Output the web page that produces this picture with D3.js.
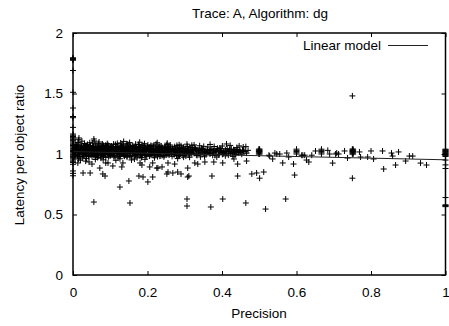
<!DOCTYPE html>
<html>
<head>
<meta charset="utf-8">
<script src="https://cdn.jsdelivr.net/npm/d3@7"></script>
<style>
  body { margin: 0; background: #fff; }
  svg text { font-family: "Liberation Sans", Arial, sans-serif; font-size: 13.5px; fill: #000; }
</style>
</head>
<body>
<div id="chart"></div>
<script>
const xTicks = [0, 0.2, 0.4, 0.6, 0.8, 1];
const yTicks = [0, 0.5, 1, 1.5, 2];

// linear model end points
const modelX = [0, 1];
const modelY = [1.02, 0.952];

// points stacked on precision = 0
const edgeLeftY = [1.775, 1.78, 1.785, 1.79, 1.795, 1.69, 1.51, 1.38, 1.31, 1.30, 1.22, 1.165, 1.155, 1.145,
  1.135, 1.125, 1.118, 1.11, 1.10, 1.09, 1.08, 1.07, 1.06, 1.05, 1.04, 1.03, 1.02, 1.01, 1.0, 0.99, 0.98,
  0.97, 0.96, 0.95, 0.94, 0.93, 0.915, 0.86, 0.84, 0.82];

// points stacked on precision = 1
const edgeRightY = [1.04, 1.035, 1.03, 1.025, 1.02, 1.015, 1.01, 1.005, 1.0, 0.995, 0.99, 0.985, 0.98,
  0.95, 0.91, 0.88, 0.64, 0.58, 0.575, 0.57, 0.565];

// dense cloud, precision 0 - 0.1
const cloudA = [[0.003,1.021],[0.007,1.054],[0.011,0.987],[0.014,1.072],[0.018,1.012],[0.021,1.043],[0.025,0.968],
  [0.028,1.031],[0.031,1.087],[0.034,1.004],[0.037,1.058],[0.041,0.992],[0.044,1.026],[0.047,1.068],[0.051,0.978],
  [0.054,1.037],[0.057,1.015],[0.061,1.081],[0.064,0.996],[0.067,1.049],[0.071,1.022],[0.074,0.983],[0.077,1.064],
  [0.081,1.009],[0.084,1.041],[0.088,0.972],[0.091,1.029],[0.094,1.076],[0.098,1.002],
  [0.002,1.046],[0.005,0.975],[0.009,1.033],[0.013,1.095],[0.016,0.998],[0.019,1.061],[0.023,1.018],[0.027,0.981],
  [0.030,1.047],[0.033,1.023],[0.036,0.962],[0.039,1.079],[0.043,1.041],[0.046,1.003],[0.049,1.029],[0.052,1.091],
  [0.056,0.989],[0.059,1.053],[0.063,1.027],[0.066,0.971],[0.069,1.066],[0.073,1.036],[0.076,1.001],[0.079,1.083],
  [0.083,1.019],[0.086,0.993],[0.089,1.057],[0.093,1.011],[0.096,1.044],[0.099,0.985],
  [0.004,1.008],[0.008,1.069],[0.012,1.039],[0.015,0.959],[0.017,1.028],[0.022,1.083],[0.026,1.051],[0.029,0.995],
  [0.032,1.014],[0.035,1.071],[0.038,1.036],[0.042,0.979],[0.045,1.093],[0.048,1.048],[0.053,1.006],[0.055,1.062],
  [0.058,1.032],[0.062,0.984],[0.065,1.017],[0.068,1.088],[0.072,1.052],[0.075,0.966],[0.078,1.025],[0.082,1.071],
  [0.085,1.046],[0.087,1.013],[0.092,1.086],[0.095,0.977],[0.097,1.034],
  [0.001,0.994],[0.006,1.031],[0.010,1.077],[0.020,0.949],[0.024,1.106],[0.040,1.015],[0.050,1.047],[0.060,0.955],
  [0.070,1.099],[0.080,0.988],[0.090,1.038],[0.100,1.062],[0.015,1.118],[0.034,0.941],[0.057,1.108],[0.081,0.952]];

// dense cloud, precision 0.1 - 0.2
const cloudB = [[0.102,1.027],[0.105,0.991],[0.108,1.058],[0.111,1.014],[0.114,1.079],[0.117,1.036],[0.121,0.973],
  [0.124,1.049],[0.127,1.005],[0.130,1.067],[0.133,1.022],[0.137,0.986],[0.140,1.043],[0.143,1.084],[0.146,1.011],
  [0.149,1.055],[0.153,0.979],[0.156,1.032],[0.159,1.071],[0.162,1.003],[0.166,1.046],[0.169,1.019],[0.172,0.968],
  [0.175,1.061],[0.178,1.028],[0.182,0.995],[0.185,1.074],[0.188,1.039],[0.191,1.008],[0.195,1.052],[0.198,0.983],
  [0.103,1.066],[0.107,1.009],[0.110,0.976],[0.113,1.041],[0.116,1.002],[0.119,1.088],[0.123,1.024],[0.126,0.961],
  [0.129,1.035],[0.132,1.076],[0.135,0.998],[0.139,1.017],[0.142,1.059],[0.145,0.974],[0.148,1.031],[0.152,1.094],
  [0.155,1.007],[0.158,1.048],[0.161,0.985],[0.164,1.023],[0.168,1.081],[0.171,1.037],[0.174,0.993],[0.177,1.013],
  [0.181,1.056],[0.184,0.971],[0.187,1.021],[0.190,1.069],[0.194,1.033],[0.197,0.997],[0.200,1.045],
  [0.104,1.038],[0.109,1.082],[0.112,0.989],[0.118,1.054],[0.122,1.012],[0.128,1.091],[0.134,1.047],[0.138,0.982],
  [0.144,1.029],[0.150,1.003],[0.154,1.063],[0.160,1.026],[0.165,0.958],[0.170,1.052],[0.176,1.078],[0.180,1.016],
  [0.186,0.987],[0.192,1.085],[0.196,1.019],[0.115,0.948],[0.136,1.104],[0.157,0.951],[0.179,1.097],[0.193,0.956]];

// dense cloud, precision 0.2 - 0.32
const cloudC = [[0.203,1.021],[0.206,1.058],[0.210,0.994],[0.213,1.037],[0.217,1.073],[0.220,1.006],[0.224,1.042],
  [0.227,0.978],[0.231,1.028],[0.234,1.064],[0.238,1.011],[0.241,0.989],[0.245,1.049],[0.248,1.022],[0.252,1.077],
  [0.255,0.997],[0.259,1.034],[0.262,1.056],[0.266,0.981],[0.269,1.018],[0.273,1.061],[0.276,1.003],[0.280,1.039],
  [0.283,0.986],[0.287,1.025],[0.290,1.068],[0.294,1.013],[0.297,0.974],[0.301,1.044],[0.304,1.009],[0.308,1.031],
  [0.311,0.992],[0.315,1.053],[0.318,1.016],
  [0.205,0.983],[0.209,1.071],[0.212,1.016],[0.216,1.032],[0.219,0.969],[0.223,1.082],[0.226,1.047],[0.230,1.002],
  [0.233,1.019],[0.237,1.066],[0.240,1.035],[0.244,0.977],[0.247,1.059],[0.251,1.008],[0.254,1.041],[0.258,0.991],
  [0.261,1.074],[0.265,1.027],[0.268,1.045],[0.272,0.997],[0.275,1.034],[0.279,1.071],[0.282,1.019],[0.286,1.052],
  [0.289,0.999],[0.293,1.036],[0.296,1.058],[0.300,1.021],[0.303,0.983],[0.307,1.062],[0.310,1.038],[0.314,1.004],
  [0.317,1.027],[0.320,1.049],
  [0.208,1.043],[0.215,0.992],[0.222,1.025],[0.229,1.056],[0.236,0.985],[0.243,1.012],[0.250,1.037],[0.257,1.063],
  [0.264,1.004],[0.271,1.031],[0.278,0.988],[0.285,1.076],[0.292,1.047],[0.299,1.005],[0.306,1.081],[0.313,0.973],
  [0.319,1.072],[0.226,1.093],[0.253,1.089],[0.281,0.962]];

// thinner cloud, precision 0.32 - 0.47
const cloudD = [[0.323,1.016],[0.327,1.052],[0.331,0.993],[0.336,1.034],[0.340,1.068],[0.344,1.009],[0.349,1.041],
  [0.353,0.982],[0.357,1.025],[0.362,1.058],[0.366,1.003],[0.370,1.037],[0.375,0.989],[0.379,1.062],[0.383,1.021],
  [0.388,1.047],[0.392,0.996],[0.396,1.031],[0.401,1.066],[0.405,1.012],[0.409,0.985],[0.414,1.044],[0.418,1.019],
  [0.422,1.071],[0.427,1.005],[0.431,1.036],[0.435,0.993],[0.440,1.053],[0.444,1.014],[0.448,1.029],[0.453,0.998],
  [0.457,1.058],[0.462,1.022],[0.466,1.007],
  [0.325,1.075],[0.333,1.027],[0.342,0.976],[0.351,1.063],[0.359,1.011],[0.368,1.079],[0.377,1.028],[0.386,0.975],
  [0.394,1.049],[0.403,1.001],[0.412,1.083],[0.420,1.039],[0.429,0.981],[0.438,1.024],[0.446,1.067],[0.455,1.033],
  [0.464,1.061]];

// solid core of the cloud, precision 0 - 0.26
const coreA = [[0.005,1.012],[0.009,1.049],[0.012,0.982],[0.016,1.036],[0.019,1.005],[0.023,1.058],[0.026,1.024],
  [0.029,0.991],[0.033,1.043],[0.036,1.017],[0.040,1.062],[0.043,0.986],[0.046,1.031],[0.050,1.009],[0.053,1.052],
  [0.056,1.021],[0.060,0.978],[0.063,1.044],[0.066,1.006],[0.070,1.035],[0.073,1.059],[0.076,0.989],[0.080,1.027],
  [0.083,1.051],[0.086,1.002],[0.090,1.019],[0.093,1.063],[0.096,0.994],[0.100,1.038],[0.103,1.011],[0.106,1.047],
  [0.110,0.984],[0.113,1.026],[0.116,1.061],[0.120,1.004],[0.123,1.039],[0.126,0.979],[0.130,1.015],[0.133,1.054],
  [0.136,1.029],[0.140,0.992],[0.143,1.041],[0.146,1.064],[0.150,1.018],[0.153,0.987],[0.156,1.049],[0.160,1.007],
  [0.163,1.033],[0.166,1.058],[0.170,0.996],[0.173,1.024],[0.176,1.045],[0.180,0.981],[0.183,1.013],[0.186,1.056],
  [0.190,1.028],[0.193,0.999],[0.196,1.037],[0.200,1.061],[0.203,1.008],[0.206,0.985],[0.210,1.046],[0.213,1.021],
  [0.216,1.059],[0.220,0.993],[0.223,1.031],[0.226,1.012],[0.230,1.048],[0.233,0.982],[0.236,1.027],[0.240,1.053],
  [0.243,1.003],[0.246,1.038],[0.250,0.991],[0.253,1.019],[0.256,1.044],[0.259,1.009],
  [0.002,1.031],[0.007,0.996],[0.011,1.064],[0.014,1.019],[0.018,0.979],[0.021,1.041],[0.025,1.003],[0.028,1.067],
  [0.031,1.028],[0.035,0.984],[0.038,1.052],[0.041,1.011],[0.045,1.046],[0.048,0.993],[0.052,1.034],[0.055,1.066],
  [0.058,1.001],[0.062,1.025],[0.065,1.057],[0.068,0.985],[0.072,1.014],[0.075,1.048],[0.078,1.008],[0.082,0.981],
  [0.085,1.032],[0.088,1.061],[0.092,1.022],[0.095,1.053],[0.098,1.014],[0.101,0.988],[0.105,1.057],[0.108,1.029],
  [0.111,1.003],[0.115,1.043],[0.118,1.019],[0.121,1.058],[0.125,0.994],[0.128,1.047],[0.131,1.008],[0.135,1.066],
  [0.138,1.035],[0.141,1.012],[0.145,0.983],[0.148,1.052],[0.151,1.039],[0.155,1.002],[0.158,1.026],[0.161,1.062],
  [0.165,1.011],[0.168,0.989],[0.171,1.049],[0.175,1.017],[0.178,1.057],[0.181,1.036],[0.185,0.998],[0.188,1.011],
  [0.191,1.047],[0.195,0.987],[0.198,1.022],[0.202,1.051],[0.205,1.031],[0.208,1.002],[0.212,1.066],[0.215,1.014],
  [0.218,0.986],[0.222,1.049],[0.225,1.027],[0.228,0.997],[0.232,1.061],[0.235,1.008],[0.238,1.042],[0.242,1.023],
  [0.245,0.988],[0.248,1.054],[0.252,1.029],[0.255,1.002],[0.258,1.036]];

// solid core of the cloud, precision 0.26 - 0.45
const coreB = [[0.263,1.021],[0.267,1.043],[0.271,0.996],[0.274,1.027],[0.278,1.012],[0.282,1.046],[0.286,0.991],
  [0.289,1.033],[0.293,1.018],[0.297,1.049],[0.301,1.002],[0.305,1.026],[0.309,1.041],[0.313,0.995],[0.317,1.014],
  [0.321,1.037],[0.325,1.005],[0.329,1.044],[0.333,0.988],[0.337,1.019],[0.341,1.031],[0.345,1.047],[0.349,1.001],
  [0.353,1.023],[0.357,0.993],[0.361,1.038],[0.365,1.016],[0.369,1.004],[0.373,1.042],[0.377,1.011],[0.381,0.989],
  [0.385,1.027],[0.389,1.035],[0.393,1.008],[0.397,1.045],[0.401,0.997],[0.405,1.021],[0.409,1.033],[0.413,1.006],
  [0.417,0.991],[0.421,1.026],[0.425,1.041],[0.429,1.013],[0.433,1.024],[0.437,0.996],[0.441,1.037],[0.445,1.009],
  [0.449,1.018],
  [0.265,1.007],[0.276,1.036],[0.284,1.019],[0.295,0.987],[0.303,1.045],[0.311,1.017],[0.319,1.001],[0.331,1.029],
  [0.339,1.008],[0.347,1.036],[0.355,1.014],[0.367,1.029],[0.379,1.023],[0.391,0.995],[0.399,1.026],[0.411,1.018],
  [0.423,1.003],[0.435,1.032]];

// scattered points below / above the cloud
const sparse = [[0.056,0.603],[0.153,0.595],[0.126,0.727],[0.150,0.777],[0.027,0.843],[0.046,0.843],[0.080,0.835],
  [0.086,0.818],[0.177,0.818],[0.188,0.810],[0.201,0.769],[0.214,0.810],[0.072,0.884],[0.013,0.926],[0.043,0.934],
  [0.051,0.917],[0.088,0.926],[0.094,0.926],[0.107,0.901],[0.131,0.893],[0.134,0.926],[0.180,0.926],[0.185,0.909],
  [0.206,0.893],[0.225,0.884],[0.214,0.926],[0.016,1.132],[0.056,1.124],[0.088,1.074],[0.147,1.083],[0.201,1.074],
  [0.306,0.628],[0.306,0.570],[0.370,0.562],[0.402,0.628],[0.373,0.818],[0.442,0.818],[0.308,0.810],[0.311,0.818],
  [0.252,0.835],[0.255,0.851],[0.268,0.843],[0.281,0.851],[0.290,0.835],[0.308,0.884],[0.228,0.884],[0.239,0.893],
  [0.255,0.926],[0.273,0.917],[0.327,0.926],[0.335,0.917],[0.354,0.934],[0.378,0.934],[0.402,0.926],[0.442,0.917],
  [0.432,0.959],
  [0.464,0.595],[0.517,0.545],[0.571,0.628],[0.480,0.835],[0.493,0.843],[0.501,0.800],[0.512,0.851],[0.595,0.826],
  [0.592,0.917],[0.563,0.926],[0.466,0.942],[0.627,0.950],[0.633,0.934],[0.536,0.959],[0.528,0.983],[0.547,1.000],
  [0.555,1.000],[0.574,1.008],[0.617,0.990],[0.684,1.030],[0.651,1.025],[0.458,1.025],[0.470,1.030],
  [0.440,1.017],[0.456,1.025],[0.526,0.990],[0.542,1.008],[0.579,0.975],[0.614,0.990],[0.622,0.990],[0.641,0.990],
  [0.689,1.000],[0.708,1.008],[0.729,1.025],[0.737,0.967],[0.769,1.017],[0.772,0.975],[0.800,1.025],[0.807,0.959],
  [0.831,1.025],[0.855,1.008],[0.858,0.983],[0.874,1.017],[0.893,0.942],[0.903,0.983],[0.912,0.983],[0.705,1.000],
  [0.713,1.000],[0.791,0.975],
  [0.750,1.480],[0.750,0.800],[0.834,0.876],[0.697,0.925],[0.866,0.909],[0.933,0.925],[0.949,0.909]];

// vertical stacks at a few precision values
const stackX = [0.499, 0.501, 0.600, 0.667, 0.750, 0.752];
const stackY = [1.0, 1.01, 1.02, 1.03, 1.04];

const W = 449, H = 326;
const svg = d3.select("#chart").append("svg")
    .attr("width", W)
    .attr("height", H);

const x = d3.scaleLinear().domain([0, 1]).range([73, 445.5]);
const y = d3.scaleLinear().domain([0, 2]).range([275, 33]);

// points
const points = [].concat(
  edgeLeftY.map(v => [0, v]),
  edgeRightY.map(v => [1, v]),
  cloudA, cloudB, cloudC, cloudD, coreA, coreB, sparse,
  d3.cross(stackX, stackY)
);

const arm = 3;
svg.append("g")
  .selectAll("path")
  .data(points)
  .enter().append("path")
  .attr("d", d => {
    const px = x(d[0]), py = y(d[1]);
    return `M${px - arm},${py}H${px + arm}M${px},${py - arm}V${py + arm}`;
  })
  .attr("stroke", "#000")
  .attr("stroke-width", 1)
  .attr("fill", "none");

// linear model
svg.append("line")
  .attr("x1", x(modelX[0])).attr("y1", y(modelY[0]))
  .attr("x2", x(modelX[1])).attr("y2", y(modelY[1]))
  .attr("stroke", "#222")
  .attr("stroke-width", 1);

// axes with inward ticks on all four sides
svg.append("g").attr("transform", "translate(0,275)")
  .call(d3.axisBottom(x).tickValues(xTicks).tickFormat(d3.format("")).tickSizeInner(-4).tickSizeOuter(0).tickPadding(12));
svg.append("g").attr("transform", "translate(0,33)")
  .call(d3.axisTop(x).tickValues(xTicks).tickFormat("").tickSizeInner(-4).tickSizeOuter(0));
svg.append("g").attr("transform", "translate(73,0)")
  .call(d3.axisLeft(y).tickValues(yTicks).tickFormat(d3.format("")).tickSizeInner(-4).tickSizeOuter(0).tickPadding(10));
svg.append("g").attr("transform", "translate(445.5,0)")
  .call(d3.axisRight(y).tickValues(yTicks).tickFormat("").tickSizeInner(-4).tickSizeOuter(0));

svg.selectAll(".domain").remove();
svg.selectAll(".tick line").attr("stroke", "#000");
svg.selectAll(".tick text").attr("font-family", null).attr("font-size", null);

svg.append("rect")
  .attr("x", 73).attr("y", 33)
  .attr("width", 445.5 - 73).attr("height", 275 - 33)
  .attr("fill", "none")
  .attr("stroke", "#000")
  .attr("stroke-width", 1.5);

// legend
svg.append("text").attr("x", 381).attr("y", 50).attr("text-anchor", "end").text("Linear model");
svg.append("line")
  .attr("x1", 388).attr("x2", 428).attr("y1", 45.5).attr("y2", 45.5)
  .attr("stroke", "#222");

// titles
svg.append("text").attr("x", 260).attr("y", 18).attr("text-anchor", "middle").text("Trace: A, Algorithm: dg");
svg.append("text").attr("x", 259).attr("y", 318).attr("text-anchor", "middle").text("Precision");
svg.append("text")
  .attr("transform", "translate(24,155) rotate(-90)")
  .attr("text-anchor", "middle")
  .text("Latency per object ratio");
</script>
</body>
</html>
